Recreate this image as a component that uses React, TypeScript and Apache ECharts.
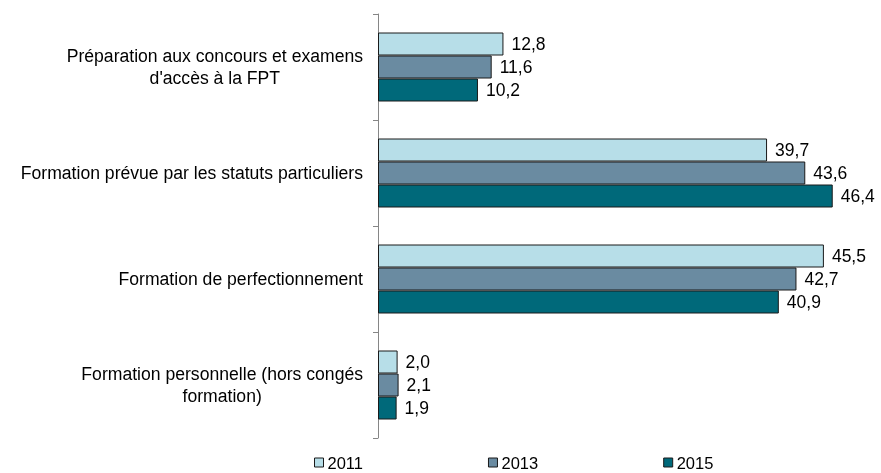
import React, { useEffect, useRef } from "react";
import * as echarts from "echarts";

const categories = [
  "Préparation aux concours et examens\nd'accès à la FPT",
  "Formation prévue par les statuts particuliers",
  "Formation de perfectionnement",
  "Formation personnelle (hors congés\nformation)",
];
const seriesNames = ["2011", "2013", "2015"];
const values2011 = [12.8, 39.7, 45.5, 2.0];
const values2013 = [11.6, 43.6, 42.7, 2.1];
const values2015 = [10.2, 46.4, 40.9, 1.9];
const colors = ["#B7DEE8", "#6A8BA1", "#00697A"];

export default function App() {
  const ref = useRef<HTMLDivElement>(null);
  useEffect(() => {
    if (!ref.current) return;
    const chart = echarts.init(ref.current, null, { renderer: "svg" });
    const font = "Liberation Sans, Arial, sans-serif";
    const data = [values2011, values2013, values2015];
    chart.setOption({
      animation: false,
      textStyle: { fontFamily: font },
      grid: { left: 378, right: 13, top: 14, bottom: 35, containLabel: false },
      legend: {
        data: seriesNames,
        left: 314,
        top: 454,
        padding: 0,
        itemWidth: 9,
        itemHeight: 9,
        itemGap: 125,
        icon: "rect",
        itemStyle: { borderColor: "#1a1a1a", borderWidth: 1 },
        textStyle: { fontSize: 16.5, color: "#000", fontFamily: font, padding: [0, 0, 0, -1] },
      },
      xAxis: { type: "value", min: 0, max: 50, show: false },
      yAxis: {
        type: "category",
        inverse: true,
        data: categories,
        axisLine: { show: true, lineStyle: { color: "#868686", width: 1 } },
        axisTick: { show: true, length: 5, lineStyle: { color: "#868686" } },
        axisLabel: {
          margin: 15,
          color: "#000",
          fontSize: 17.6,
          fontFamily: font,
          lineHeight: 22,
          formatter: (v: string) =>
            v.split("\n").map((l) => `{c|${l}}`).join("\n"),
          rich: { c: { align: "center", fontSize: 17.6, color: "#000", fontFamily: font, lineHeight: 22 } },
        },
      },
      series: seriesNames.map((name, i) => ({
        name,
        type: "bar",
        data: data[i],
        barWidth: 23,
        barGap: "0%",
        itemStyle: { color: colors[i], borderColor: "#1a1a1a", borderWidth: 1 },
        label: {
          show: true,
          position: "right",
          distance: 8,
          color: "#000",
          fontSize: 17.5,
          fontFamily: font,
          formatter: (p: any) => p.value.toFixed(1).replace(".", ","),
        },
      })),
    });
    return () => chart.dispose();
  }, []);
  return (
    <div
      ref={ref}
      style={{ position: "fixed", left: 0, top: 0, width: 881, height: 473 }}
    />
  );
}
